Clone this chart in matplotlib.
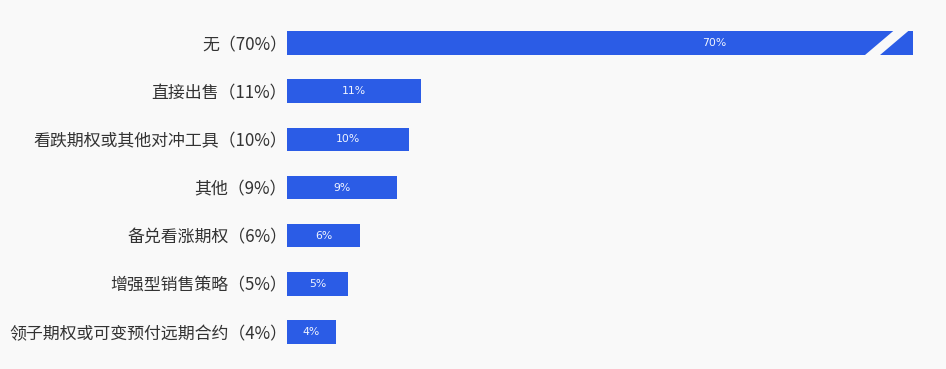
"""
Horizontal bar chart: hedging approaches share, with a broken first bar
"""

import matplotlib
matplotlib.use('Agg')
import matplotlib.pyplot as plt

plt.rcParams['font.family'] = ['Noto Sans CJK SC', 'DejaVu Sans']

categories = ['无', '直接出售', '看跌期权或其他对冲工具', '其他',
              '备兑看涨期权', '增强型销售策略', '领子期权或可变预付远期合约']
values = [70, 11, 10, 9, 6, 5, 4]

bar_color = '#2b5ce6'
bg_color = '#f9f9f9'
x_max = 51.3  # axis cut-off, the 70% bar runs past it

fig = plt.figure(figsize=(9.46, 3.69), dpi=100, facecolor=bg_color)
ax = fig.add_axes([287 / 946, 13 / 369, 626 / 946, 337 / 369])
ax.set_facecolor(bg_color)

y_pos = range(len(categories))
bars = ax.barh(y_pos, values, height=0.49, color=bar_color)

ax.set_xlim(0, x_max)
ax.set_ylim(len(categories) - 0.5, -0.5)

ax.set_yticks(list(y_pos))
ax.set_yticklabels([f'{c}（{v}%）' for c, v in zip(categories, values)],
                   fontsize=12.2, color='#333333')
ax.tick_params(axis='y', length=0, pad=0)
ax.set_xticks([])
for spine in ax.spines.values():
    spine.set_visible(False)

# Value labels inside the bars
for i, val in enumerate(values):
    ax.text(val / 2, i, f'{val}%', ha='center', va='center',
            fontsize=7.8, color='#f0f4ff', family='DejaVu Sans')

# Break mark on the first bar
ax.plot([x_max - 3.7, x_max - 0.4], [0.33, -0.38], color=bg_color,
        linewidth=7, solid_capstyle='butt', clip_on=False)

fig.savefig('out.png', dpi=100, facecolor=bg_color)
plt.close(fig)
